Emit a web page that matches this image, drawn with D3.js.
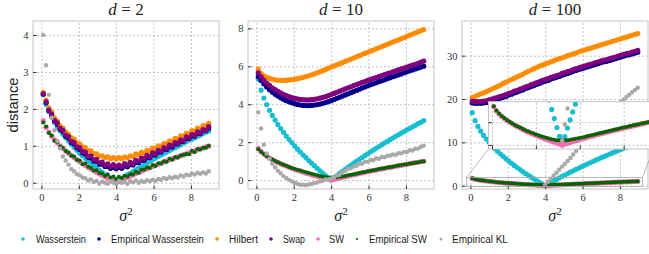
<!DOCTYPE html>
<html lang="en">
<head>
<meta charset="UTF-8">
<title>distance vs sigma^2</title>
<script src="https://d3js.org/d3.v7.min.js"></script>
<style>
  body { margin: 0; background: #fff; }
  svg { display: block; }
</style>
</head>
<body>
<svg width="649" height="254"></svg>
<script>
// sigma^2 grid shared by every series
const sigma2 = [0.10,0.25,0.40,0.55,0.70,0.85,1.00,1.15,1.30,1.45,1.60,1.75,1.90,2.05,2.20,2.35,2.50,2.65,2.80,2.95,
  3.10,3.25,3.40,3.55,3.70,3.85,4.00,4.15,4.30,4.45,4.60,4.75,4.90,5.05,5.20,5.35,5.50,5.65,5.80,5.95,
  6.10,6.25,6.40,6.55,6.70,6.85,7.00,7.15,7.30,7.45,7.60,7.75,7.90,8.05,8.20,8.35,8.50,8.65,8.80,8.95];

// SW (same in every dimension)
const sw = [1.68,1.50,1.37,1.26,1.16,1.08,1.00,0.93,0.86,0.80,0.74,0.68,0.62,0.57,0.52,0.47,0.42,0.37,0.33,0.28,
  0.24,0.20,0.16,0.12,0.08,0.04,0.00,0.04,0.07,0.11,0.15,0.18,0.21,0.25,0.28,0.31,0.35,0.38,0.41,0.44,
  0.47,0.50,0.53,0.56,0.59,0.62,0.65,0.67,0.70,0.73,0.76,0.78,0.81,0.84,0.86,0.89,0.92,0.94,0.97,0.99];

// d = 2
const wass2 = [2.38,2.12,1.93,1.78,1.64,1.52,1.41,1.31,1.22,1.13,1.04,0.96,0.88,0.80,0.73,0.66,0.59,0.53,0.46,0.40,
  0.34,0.28,0.22,0.16,0.11,0.05,0.00,0.05,0.10,0.16,0.21,0.25,0.30,0.35,0.40,0.44,0.49,0.53,0.58,0.62,
  0.66,0.71,0.75,0.79,0.83,0.87,0.91,0.95,0.99,1.03,1.07,1.11,1.15,1.18,1.22,1.26,1.29,1.33,1.37,1.40];
const empWass2 = [2.40,2.17,1.95,1.83,1.67,1.58,1.45,1.38,1.26,1.21,1.09,1.05,0.95,0.90,0.81,0.78,0.69,0.67,0.59,0.58,
  0.50,0.50,0.44,0.44,0.39,0.42,0.38,0.42,0.39,0.45,0.43,0.49,0.48,0.55,0.55,0.61,0.61,0.68,0.68,0.76,
  0.75,0.83,0.83,0.91,0.90,0.98,0.97,1.05,1.05,1.12,1.12,1.20,1.20,1.27,1.26,1.34,1.33,1.41,1.41,1.48];
const hilbert2 = [2.45,2.24,2.03,1.91,1.75,1.67,1.54,1.48,1.37,1.32,1.22,1.18,1.08,1.05,0.97,0.95,0.87,0.86,0.79,0.78,
  0.72,0.73,0.68,0.70,0.65,0.68,0.64,0.68,0.65,0.70,0.67,0.73,0.71,0.78,0.76,0.82,0.80,0.88,0.86,0.94,
  0.93,1.00,0.99,1.06,1.06,1.13,1.13,1.20,1.19,1.27,1.26,1.34,1.33,1.41,1.40,1.48,1.46,1.55,1.54,1.61];
const swap2 = [2.41,2.19,1.97,1.86,1.69,1.62,1.47,1.42,1.29,1.25,1.12,1.09,0.97,0.95,0.84,0.83,0.72,0.73,0.62,0.63,
  0.54,0.56,0.48,0.51,0.44,0.49,0.43,0.48,0.44,0.52,0.48,0.55,0.52,0.61,0.58,0.67,0.65,0.74,0.71,0.81,
  0.78,0.88,0.85,0.95,0.92,1.02,1.00,1.09,1.07,1.16,1.13,1.24,1.21,1.30,1.28,1.38,1.35,1.44,1.42,1.52];
const empSw2 = [1.63,1.52,1.35,1.28,1.14,1.10,0.98,0.95,0.86,0.82,0.73,0.71,0.62,0.60,0.50,0.52,0.43,0.40,0.33,0.34,
  0.26,0.25,0.18,0.22,0.14,0.17,0.10,0.16,0.13,0.19,0.17,0.23,0.22,0.30,0.27,0.35,0.36,0.41,0.40,0.48,
  0.45,0.53,0.52,0.58,0.57,0.65,0.62,0.70,0.68,0.74,0.75,0.78,0.77,0.86,0.83,0.91,0.90,0.95,0.95,1.00];
const empKl2 = [4.00,3.18,2.38,1.76,1.42,1.13,0.93,0.71,0.60,0.49,0.37,0.31,0.23,0.20,0.14,0.12,0.06,0.09,0.02,0.05,
  -0.02,0.03,0.00,-0.03,0.04,0.00,-0.02,0.05,0.00,0.02,-0.03,0.04,0.01,0.06,0.00,0.05,0.02,0.07,0.04,0.08,
  0.05,0.10,0.08,0.13,0.10,0.15,0.12,0.16,0.14,0.20,0.17,0.22,0.20,0.25,0.22,0.27,0.24,0.28,0.25,0.31];

// d = 10
const wass10 = [5.32,4.74,4.33,3.98,3.68,3.41,3.16,2.93,2.72,2.52,2.32,2.14,1.97,1.80,1.63,1.48,1.32,1.18,1.03,0.89,
  0.76,0.62,0.49,0.37,0.24,0.12,0.00,0.12,0.23,0.35,0.46,0.57,0.68,0.78,0.89,0.99,1.09,1.19,1.29,1.39,
  1.49,1.58,1.68,1.77,1.86,1.95,2.04,2.13,2.22,2.31,2.39,2.48,2.56,2.65,2.73,2.81,2.89,2.98,3.05,3.14];
const empWass10 = [5.45,5.25,5.07,4.91,4.77,4.64,4.53,4.43,4.34,4.26,4.19,4.13,4.08,4.03,3.99,3.96,3.94,3.93,3.93,3.94,
  3.96,3.98,4.01,4.05,4.09,4.14,4.19,4.25,4.31,4.37,4.43,4.49,4.55,4.61,4.67,4.73,4.79,4.85,4.91,4.97,
  5.03,5.08,5.13,5.19,5.24,5.29,5.35,5.40,5.45,5.50,5.55,5.60,5.66,5.71,5.76,5.81,5.86,5.91,5.96,6.01];
const hilbert10 = [5.85,5.62,5.50,5.42,5.36,5.32,5.29,5.27,5.26,5.26,5.27,5.28,5.30,5.32,5.35,5.38,5.42,5.46,5.50,5.55,
  5.60,5.66,5.71,5.77,5.83,5.90,5.96,6.02,6.08,6.14,6.20,6.26,6.32,6.38,6.44,6.50,6.56,6.62,6.68,6.74,
  6.80,6.86,6.92,6.98,7.04,7.10,7.16,7.22,7.28,7.34,7.40,7.46,7.52,7.58,7.64,7.70,7.76,7.82,7.88,7.94];
const swap10 = [5.65,5.44,5.27,5.12,4.99,4.87,4.77,4.68,4.60,4.52,4.46,4.40,4.35,4.31,4.28,4.25,4.24,4.23,4.23,4.24,
  4.26,4.29,4.32,4.36,4.40,4.45,4.51,4.57,4.63,4.69,4.75,4.81,4.87,4.92,4.98,5.04,5.09,5.15,5.20,5.26,
  5.31,5.36,5.41,5.46,5.51,5.56,5.61,5.66,5.71,5.76,5.81,5.86,5.91,5.96,6.01,6.06,6.11,6.16,6.22,6.28];
const empSw10 = [1.63,1.50,1.37,1.27,1.17,1.09,1.01,0.94,0.87,0.81,0.75,0.69,0.64,0.59,0.54,0.50,0.45,0.41,0.37,0.33,
  0.29,0.25,0.22,0.19,0.16,0.14,0.13,0.14,0.15,0.17,0.19,0.22,0.25,0.28,0.31,0.34,0.37,0.40,0.43,0.46,
  0.49,0.52,0.55,0.58,0.61,0.63,0.66,0.69,0.71,0.74,0.77,0.79,0.82,0.84,0.87,0.89,0.92,0.94,0.97,0.99];
const empKl10 = [3.58,2.72,1.86,1.40,1.13,0.86,0.68,0.49,0.36,0.21,0.11,0.01,-0.07,-0.15,-0.19,-0.25,-0.24,-0.27,-0.23,-0.21,
  -0.16,-0.13,-0.07,-0.04,0.03,0.04,0.09,0.13,0.24,0.28,0.42,0.48,0.60,0.62,0.72,0.75,0.86,0.86,0.97,0.96,
  1.06,1.05,1.15,1.12,1.22,1.20,1.28,1.29,1.35,1.34,1.42,1.41,1.49,1.48,1.57,1.56,1.65,1.66,1.76,1.82];

// d = 100
const wass100 = [16.84,15.00,13.68,12.58,11.63,10.78,10.00,9.28,8.60,7.96,7.35,6.77,6.22,5.68,5.17,4.67,4.19,3.72,3.27,2.82,
  2.39,1.97,1.56,1.16,0.76,0.38,0.00,0.37,0.74,1.10,1.45,1.79,2.14,2.47,2.80,3.13,3.45,3.77,4.08,4.39,
  4.70,5.00,5.30,5.59,5.88,6.17,6.46,6.74,7.02,7.29,7.57,7.84,8.11,8.37,8.64,8.90,9.15,9.41,9.66,9.92];
const empWass100 = [19.1,19.0,19.0,19.0,19.1,19.2,19.4,19.6,19.8,20.0,20.2,20.4,20.6,20.9,21.1,21.4,21.6,21.9,22.1,22.4,
  22.6,22.9,23.1,23.4,23.6,23.9,24.1,24.3,24.6,24.8,25.0,25.2,25.5,25.7,25.9,26.1,26.4,26.6,26.8,27.0,
  27.2,27.4,27.6,27.8,28.0,28.2,28.4,28.6,28.7,28.9,29.1,29.3,29.5,29.7,29.9,30.1,30.2,30.4,30.6,30.8];
const hilbert100 = [20.3,20.6,20.9,21.2,21.4,21.7,22.0,22.3,22.6,22.9,23.2,23.6,23.9,24.2,24.5,24.8,25.1,25.4,25.7,26.1,
  26.4,26.7,27.0,27.3,27.6,27.8,28.1,28.3,28.6,28.8,29.1,29.3,29.5,29.7,30.0,30.2,30.4,30.6,30.9,31.1,
  31.3,31.5,31.7,31.9,32.1,32.3,32.5,32.7,32.9,33.1,33.3,33.5,33.7,33.9,34.1,34.3,34.5,34.7,34.9,35.1];
const swap100 = [19.5,19.4,19.4,19.4,19.5,19.6,19.8,20.0,20.2,20.4,20.6,20.8,21.0,21.3,21.5,21.8,22.0,22.3,22.5,22.8,
  23.0,23.3,23.5,23.8,24.0,24.3,24.5,24.7,25.0,25.2,25.4,25.6,25.9,26.1,26.3,26.5,26.8,27.0,27.2,27.4,
  27.6,27.8,28.0,28.2,28.4,28.6,28.8,29.0,29.1,29.3,29.5,29.7,29.9,30.1,30.3,30.5,30.6,30.8,31.0,31.2];
const empSw100 = [1.70,1.51,1.38,1.27,1.18,1.10,1.02,0.95,0.88,0.82,0.76,0.71,0.65,0.60,0.55,0.51,0.46,0.42,0.38,0.35,
  0.31,0.28,0.25,0.23,0.21,0.20,0.20,0.20,0.21,0.23,0.25,0.27,0.29,0.32,0.34,0.37,0.40,0.43,0.45,0.48,
  0.51,0.54,0.57,0.59,0.62,0.65,0.68,0.70,0.73,0.76,0.78,0.81,0.84,0.86,0.89,0.91,0.94,0.96,0.99,1.01];
const empKl100 = [null,null,null,null,null,null,null,null,null,null,null,null,null,null,null,null,null,null,null,null,
  null,null,null,null,null,null,0.2,0.9,1.6,2.3,3.0,3.7,4.4,5.0,5.7,6.4,7.2,8.0,8.7,9.4,
  10.1,10.8,11.5,12.2,12.9,13.6,14.3,15.0,15.7,16.4,17.2,17.9,18.6,19.3,19.9,20.5,21.0,21.6,22.1,22.6];

const seriesNames = ["Wasserstein", "Empirical Wasserstein", "Hilbert", "Swap", "SW", "Empirical SW", "Empirical KL"];
const seriesColors = ["#17becf", "#00008b", "#ff8c00", "#800080", "#ff69b4", "#006400", "#a9a9a9"];
const dotR = [2.6, 2.6, 2.6, 2.6, 2.6, 2.0, 2.2];

const xTicks = [0, 2, 4, 6, 8];
const insetXTicks = [0, 2.5, 5, 7.5];
const insetYTicks = [0, 1];

const panels = [
  { d: "2", left: 33, yDomain: [-0.17, 4.38], yTicks: [0, 1, 2, 3, 4],
    series: [wass2, empWass2, hilbert2, swap2, sw, empSw2, empKl2] },
  { d: "10", left: 248, yDomain: [-0.47, 8.39], yTicks: [0, 2, 4, 6, 8],
    series: [wass10, empWass10, hilbert10, swap10, sw, empSw10, empKl10] },
  { d: "100", left: 462, yDomain: [-0.76, 38], yTicks: [0, 10, 20, 30],
    series: [wass100, empWass100, hilbert100, swap100, sw, empSw100, empKl100], inset: true }
];

const serif = "'Liberation Serif', 'DejaVu Serif', serif";
const sans = "'Liberation Sans', Arial, sans-serif";
const plotTop = 21, plotBottom = 189, pw = 186;
const frameColor = "#c4c4c4", gridColor = "#b4b4b4", tickColor = "#333";

const svg = d3.select("svg");
const defs = svg.append("defs");

function drawDots(g, x, y, list) {
  list.forEach((vals, si) => {
    const pts = sigma2.map((s, k) => [s, vals[k]]).filter(p => p[1] !== null);
    g.append("g").selectAll("circle").data(pts).join("circle")
      .attr("cx", p => x(p[0])).attr("cy", p => y(p[1]))
      .attr("r", dotR[si]).attr("fill", seriesColors[si]);
  });
}

function drawGrid(g, x, y, xt, yt, y0, y1, x0, x1) {
  g.append("g").attr("transform", `translate(0,${y0})`)
    .call(d3.axisBottom(x).tickValues(xt).tickSize(-(y0 - y1)).tickFormat(""))
    .call(a => a.select(".domain").remove())
    .selectAll("line").attr("stroke", gridColor).attr("stroke-width", 0.8).attr("stroke-dasharray", "2,2");
  g.append("g").attr("transform", `translate(${x0},0)`)
    .call(d3.axisLeft(y).tickValues(yt).tickSize(-(x1 - x0)).tickFormat(""))
    .call(a => a.select(".domain").remove())
    .selectAll("line").attr("stroke", gridColor).attr("stroke-width", 0.8).attr("stroke-dasharray", "2,2");
}

function drawTicks(g, x, y, xt, yt, y0, x0, labels) {
  const fmt = labels ? d3.format("d") : () => "";
  const ax = d3.axisBottom(x).tickValues(xt).tickSizeInner(-3.5).tickSizeOuter(0).tickPadding(5).tickFormat(fmt);
  const ay = d3.axisLeft(y).tickValues(yt).tickSizeInner(-3.5).tickSizeOuter(0).tickPadding(4.5).tickFormat(fmt);
  [[ax, `translate(0,${y0})`], [ay, `translate(${x0},0)`]].forEach(([a, tr]) => {
    const gg = g.append("g").attr("transform", tr).call(a);
    gg.select(".domain").remove();
    gg.selectAll("line").attr("stroke", tickColor).attr("stroke-width", 1);
    gg.selectAll("text").attr("font-family", serif).attr("font-size", 10.5).attr("fill", "#333");
  });
}

panels.forEach((p, i) => {
  const x = d3.scaleLinear().domain([-0.45, 9.5]).range([p.left, p.left + pw]);
  const y = d3.scaleLinear().domain(p.yDomain).range([plotBottom, plotTop]);
  const g = svg.append("g");

  defs.append("clipPath").attr("id", "clip" + i).append("rect")
    .attr("x", p.left).attr("y", plotTop).attr("width", pw).attr("height", plotBottom - plotTop);

  drawGrid(g, x, y, xTicks, p.yTicks, plotBottom, plotTop, p.left, p.left + pw);
  drawDots(g.append("g").attr("clip-path", `url(#clip${i})`), x, y, p.series);

  g.append("rect").attr("x", p.left).attr("y", plotTop).attr("width", pw).attr("height", plotBottom - plotTop)
    .attr("fill", "none").attr("stroke", frameColor).attr("stroke-width", 1);
  drawTicks(g, x, y, xTicks, p.yTicks, plotBottom, p.left, true);

  // title
  const t = g.append("text").attr("x", p.left + pw / 2).attr("y", 15).attr("text-anchor", "middle")
    .attr("font-family", serif).attr("font-size", 17).attr("fill", "#222");
  t.append("tspan").attr("font-style", "italic").text("d");
  t.append("tspan").attr("dx", 4.5).text("=");
  t.append("tspan").attr("dx", 4.5).text(p.d);

  // x label
  const xl = g.append("text").attr("x", p.left + pw / 2).attr("y", 221).attr("text-anchor", "middle")
    .attr("font-family", serif).attr("font-size", 16).attr("fill", "#222");
  xl.append("tspan").attr("font-style", "italic").text("σ");
  xl.append("tspan").attr("font-size", 11).attr("dy", -6).text("2");

  if (i === 0) {
    g.append("text").attr("transform", `translate(18,${(plotTop + plotBottom) / 2}) rotate(-90)`)
      .attr("text-anchor", "middle").attr("font-family", sans).attr("font-size", 15)
      .attr("textLength", 55).attr("lengthAdjust", "spacingAndGlyphs")
      .attr("fill", "#222").text("distance");
  }

  if (p.inset) {
    const ixDom = [-0.2, 9.2], iyDom = [-0.18, 1.9];
    const il = 488.5, ir = 653.5, it = 101.7, ib = 149;
    // zoom box on the parent axes and connectors
    g.append("rect").attr("x", x(ixDom[0])).attr("y", y(iyDom[1]))
      .attr("width", x(ixDom[1]) - x(ixDom[0])).attr("height", y(iyDom[0]) - y(iyDom[1]))
      .attr("fill", "none").attr("stroke", "#a8a8a8").attr("stroke-width", 0.8);
    g.append("line").attr("x1", x(ixDom[0])).attr("y1", y(iyDom[1])).attr("x2", il).attr("y2", ib)
      .attr("stroke", "#a8a8a8").attr("stroke-width", 0.8);
    g.append("line").attr("x1", x(ixDom[1])).attr("y1", y(iyDom[1])).attr("x2", ir).attr("y2", ib)
      .attr("stroke", "#a8a8a8").attr("stroke-width", 0.8);

    const ix = d3.scaleLinear().domain(ixDom).range([il, ir]);
    const iy = d3.scaleLinear().domain(iyDom).range([ib, it]);
    const gi = svg.append("g");
    defs.append("clipPath").attr("id", "clipInset").append("rect")
      .attr("x", il).attr("y", it).attr("width", ir - il).attr("height", ib - it);
    gi.append("rect").attr("x", il).attr("y", it).attr("width", ir - il).attr("height", ib - it).attr("fill", "#fff");
    drawGrid(gi, ix, iy, insetXTicks, insetYTicks, ib, it, il, ir);
    drawDots(gi.append("g").attr("clip-path", "url(#clipInset)"), ix, iy, p.series);
    gi.append("rect").attr("x", il).attr("y", it).attr("width", ir - il).attr("height", ib - it)
      .attr("fill", "none").attr("stroke", frameColor).attr("stroke-width", 1);
    drawTicks(gi, ix, iy, insetXTicks, insetYTicks, ib, il, false);
  }
});

// legend: narrow the sans text horizontally to the widths seen in the reference
const legMarkX = [23, 99, 217, 271, 318, 357, 441];
const legTextX = [36, 111, 229, 283, 329, 369, 452];
const legTextW = [50, 93, 29, 22, 15, 58, 56];
const legR = [1.8, 1.8, 1.8, 1.8, 1.8, 1.1, 1.5];
const leg = svg.append("g");
seriesNames.forEach((name, i) => {
  leg.append("circle").attr("cx", legMarkX[i]).attr("cy", 239).attr("r", legR[i]).attr("fill", seriesColors[i]);
  const txt = leg.append("text")
    .attr("font-family", sans).attr("font-size", 11.5).attr("fill", "#222").text(name);
  const natural = txt.node().getComputedTextLength();
  txt.attr("transform", `translate(${legTextX[i]},242.5) scale(${legTextW[i] / natural},1)`);
});
</script>
</body>
</html>
